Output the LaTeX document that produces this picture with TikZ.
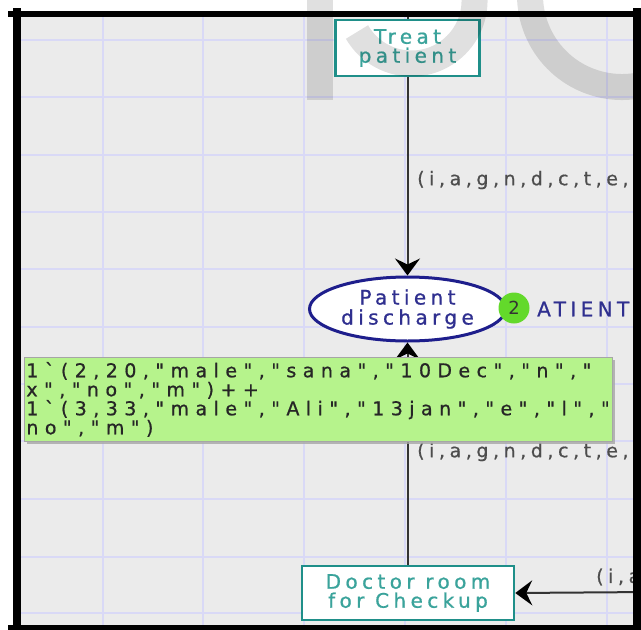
\documentclass[tikz,border=0pt]{standalone}
\usepackage{fontspec}
\setmainfont{DejaVu Sans}
\newfontfamily\cpnfont{DejaVu Sans}[LetterSpace=22,Ligatures=TeXOff,FakeBold=0.8]
\newfontfamily\cpnlabel{DejaVu Sans}[LetterSpace=24,Ligatures=TeXOff,FakeBold=0.6]
\newfontfamily\cpnwide{DejaVu Sans}[LetterSpace=34,Ligatures=TeXOff,FakeBold=0.8]
\usetikzlibrary{arrows.meta,shapes.geometric,shadows}
\definecolor{canvasbg}{HTML}{EBEBEB}
\definecolor{gridline}{HTML}{D9D9F6}
\definecolor{transteal}{HTML}{1F8F89}
\definecolor{transtext}{HTML}{3AA39B}
\definecolor{placenavy}{HTML}{1E1E8C}
\definecolor{placetext}{HTML}{2F2F8F}
\definecolor{arcgray}{HTML}{333333}
\definecolor{labelgray}{HTML}{4D4D4D}
\definecolor{markfill}{HTML}{B6F38C}
\definecolor{tokengreen}{HTML}{63D92B}

\begin{document}
\begin{tikzpicture}[x=1pt,y=-1pt,
  transition/.style={draw=transteal, line width=2.5pt, fill=white, text=transtext,
    font=\cpnfont\fontsize{20}{19}\selectfont, align=center, inner sep=0pt},
  place/.style={ellipse, draw=placenavy, line width=3pt, fill=white, text=placetext,
    font=\cpnfont\fontsize{20}{20}\selectfont, align=center,
    minimum width=196pt, minimum height=64pt, inner sep=0pt},
  arc/.style={draw=arcgray, line width=2pt,
    -{Stealth[length=17pt,width=25pt,inset=6pt,color=black]}},
  arclabel/.style={text=labelgray, font=\cpnlabel\fontsize{19}{19}\selectfont,
    anchor=west, inner sep=0pt},
  marking/.style={fill=markfill, draw=gray!70, line width=0.8pt, text=black!85,
    font=\cpnwide\fontsize{19}{19}\selectfont, align=left, text width=584pt,
    minimum height=84pt, inner xsep=2pt, inner ysep=0pt,
    drop shadow={shadow xshift=3pt, shadow yshift=-3pt, fill=gray!70, opacity=0.8}},
  token/.style={circle, fill=tokengreen, minimum size=31pt, inner sep=0pt,
    text=black!80, font=\fontsize{18}{18}\selectfont},
  watermark/.style={draw=black, draw opacity=0.12, line width=26pt}
]
\useasboundingbox (0,0) rectangle (641,630);
\fill[white] (0,0) rectangle (641,630);

\begin{scope}
  \clip (17,14) rectangle (637,627);
  \fill[canvasbg] (17,14) rectangle (637,627);
  % background grid
  \foreach \gx in {103,203,304,405,506,607}
    \draw[gridline, line width=1.6pt] (\gx,14) -- (\gx,627);
  \foreach \gy in {40,97,155,212,269,327,384,441,499,557,613}
    \draw[gridline, line width=1.6pt] (17,\gy) -- (637,\gy);

  % transitions and place
  \node[transition, minimum width=144pt, minimum height=56pt] (treat) at (407.5,48) {Treat\\patient};
  \node[place] (discharge) at (407.5,309) {Patient\\discharge};
  \node[transition, minimum width=212pt, minimum height=54pt] (doctor) at (408,593) {Doctor room\\for Checkup};

  % arcs
  \coordinate (intop) at (407.5,10);
  \coordinate (inright) at (650,592);
  \draw[draw=arcgray, line width=2pt] (intop) -- (treat.north);
  \draw[arc] (treat.south) -- (discharge.north);
  \draw[arc] (doctor.north -| discharge.south) -- (discharge.south);
  \draw[arc] (inright) -- (doctor.east);

  % arc inscriptions
  \node[arclabel] (lab1) at (417,180) {(i,a,g,n,d,c,t,e,};
  \node[arclabel] (lab2) at (417,452) {(i,a,g,n,d,c,t,e,};
  \node[arclabel] (lab3) at (596,577) {(i,a};

  % colour set and marking of the place
  \node[anchor=west, inner sep=0pt, text=placetext,
        font=\cpnfont\fontsize{20}{19}\selectfont] (ptype) at (537,309) {ATIENT};
  \node[token] (tok) at (514,308) {2};
  \node[marking, anchor=north west] (mark) at (24,357)
    {1`(2,20,"male","sana","10 Dec","n","\\x","no","m")++\\1`(3,33,"male","Ali","13 jan","e","l","\\no","m")};
\end{scope}

% watermark strokes
\draw[watermark] (320,-10) -- (320,100);
\draw[watermark] (357,32) arc[start angle=150, end angle=0, radius=63] -- (475,-10);
\draw[watermark] (622,-5) ++(200:92) arc[start angle=200, end angle=20, radius=92];

% frame
\draw[black, line width=8pt] (17,8) -- (17,634);
\draw[black, line width=8pt] (637,8) -- (637,634);
\draw[black, line width=6pt] (8,14) -- (645,14);
\draw[black, line width=6pt] (8,628) -- (645,628);
\end{tikzpicture}
\end{document}
